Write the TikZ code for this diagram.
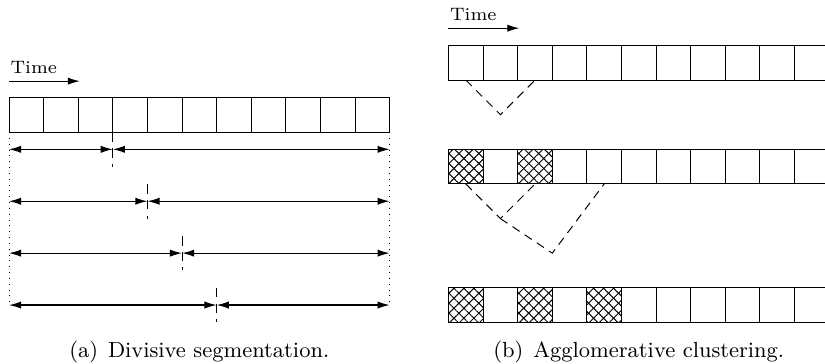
\documentclass[tikz,border=0pt]{standalone}
\usepackage{amsmath}
\usepackage{tikz}
\usetikzlibrary{arrows.meta}
\usetikzlibrary{patterns.meta}

\tikzset{
  seg/.style={{Latex[length=5pt,width=3pt]}-{Latex[length=5pt,width=3pt]},line width=0.5pt},
  timearrow/.style={-{Latex[length=5pt,width=3pt]},line width=0.5pt},
  splitline/.style={dash pattern=on 4pt off 2.5pt,line width=0.4pt},
  mergeline/.style={dash pattern=on 3.5pt off 2.5pt,line width=0.4pt},
  hatched/.style={pattern={Lines[angle=45,distance=2.9pt,line width=0.4pt]},
    postaction={pattern={Lines[angle=-45,distance=2.9pt,line width=0.4pt]}}},
  caption/.style={anchor=base,font=\fontsize{9}{11}\selectfont},
  timelabel/.style={anchor=south west,inner sep=0pt,font=\fontsize{7.4}{9}\selectfont}
}

\begin{document}
\begin{tikzpicture}[line cap=butt,line join=miter,x=0.5cm,y=0.5cm]
\clip(-0.26,-6.676) rectangle (23.58,3.815);
% (a) divisive segmentation
\node[timelabel] (timeA) at (0.03,1.68) {Time};
\coordinate (tA1) at (0,1.47);
\coordinate (tA2) at (2.05,1.47);
\draw[timearrow] (tA1) -- (tA2);
\foreach \i in {0,...,10}
  \draw (\i,0) rectangle +(1,1);
\draw[dotted] (0,0) -- (0,-5);
\draw[dotted] (11,0) -- (11,-5);
\foreach \k/\y in {3/-0.5,4/-2,5/-3.5,6/-5} {
  \coordinate (L) at (0,\y);
  \coordinate (S) at (\k,\y);
  \coordinate (R) at (11,\y);
  \draw[splitline] (\k,\y+0.5) -- (\k,\y-0.5);
  \draw[seg] (L) -- (S);
  \draw[seg] (S) -- (R);
}
\node[caption] (capA) at (5.5,-6.53) {(a)\hspace{0.45em}Divisive segmentation.};
% (b) agglomerative clustering
\begin{scope}[xshift=6.35cm]
\node[timelabel] (timeB) at (0.03,3.2) {Time};
\coordinate (tB1) at (0,3);
\coordinate (tB2) at (2.05,3);
\draw[timearrow] (tB1) -- (tB2);
\fill[hatched] (0,-1.5) rectangle +(1,1);
\fill[hatched] (2,-1.5) rectangle +(1,1);
\fill[hatched] (0,-5.5) rectangle +(1,1);
\fill[hatched] (2,-5.5) rectangle +(1,1);
\fill[hatched] (4,-5.5) rectangle +(1,1);
\foreach \y in {1.5,-1.5,-5.5}
  \foreach \i in {0,...,10}
    \draw (\i,\y) rectangle +(1,1);
\draw[mergeline] (0.5,1.5) -- (1.5,0.5) -- (2.5,1.5);
\draw[mergeline] (0.5,-1.5) -- (1.5,-2.5) -- (2.5,-1.5);
\draw[mergeline] (1.5,-2.5) -- (3,-3.5) -- (4.5,-1.5);
\node[caption] (capB) at (5.5,-6.53) {(b)\hspace{0.45em}Agglomerative clustering.};
\end{scope}
\end{tikzpicture}
\end{document}
